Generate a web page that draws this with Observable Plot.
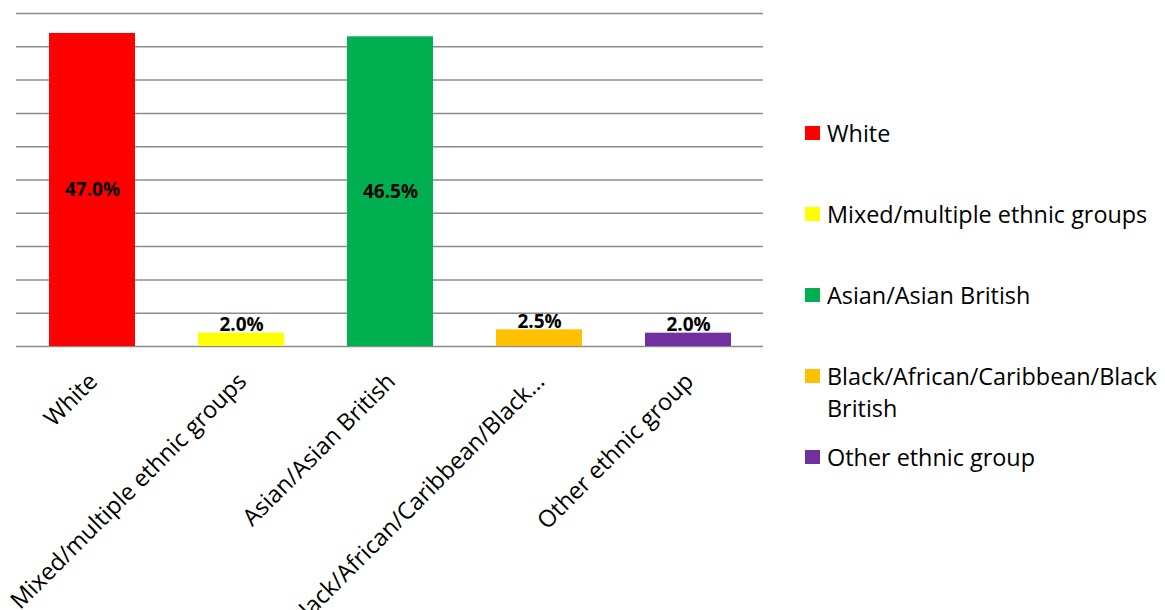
<!DOCTYPE html>
<html><head><meta charset="utf-8">
<script src="https://cdn.jsdelivr.net/npm/d3@7"></script>
<script src="https://cdn.jsdelivr.net/npm/@observablehq/plot@0.6"></script>
<style>
body{margin:0;background:#fff;font-family:"Open Sans", sans-serif;}
#wrap{position:relative;width:1165px;height:610px;overflow:hidden;background:#fff;}
#chart{position:absolute;left:0;top:0;}
#legend{position:absolute;left:805px;top:117px;width:360px;}
.item{display:flex;align-items:flex-start;height:81px;font-size:23.4px;line-height:32px;color:#000;}
.sw{width:15px;height:14px;margin-top:9px;margin-right:7px;flex:none;}
.lab{width:338px;}
</style></head><body><div id="wrap"><div id="chart"></div><div id="legend"></div></div>
<script>
const categories = ["White", "Mixed/multiple ethnic groups", "Asian/Asian British", "Black/African/Caribbean/Black British", "Other ethnic group"];
const axisLabels = ["White", "Mixed/multiple ethnic groups", "Asian/Asian British", "Black/African/Caribbean/Black…", "Other ethnic group"];
const values = [47.0, 2.0, 46.5, 2.5, 2.0];
const colors = ["#FF0000", "#FFFF00", "#00B050", "#FFC000", "#7030A0"];
const gridTicks = [0, 5, 10, 15, 20, 25, 30, 35, 40, 45, 50];

const data = categories.map((c, i) => ({category: c, value: values[i], label: axisLabels[i]}));
const fmt = d => d.value.toFixed(1) + "%";

const plot = Plot.plot({
  width: 780, height: 610,
  marginTop: 13, marginBottom: 264, marginLeft: 16, marginRight: 17,
  x: {domain: categories, paddingInner: 0.424, paddingOuter: 0.212, axis: null},
  y: {domain: [0, 50], axis: null},
  color: {domain: categories, range: colors},
  style: {fontFamily: "'Open Sans', sans-serif", background: "white", overflow: "visible"},
  marks: [
    Plot.ruleY(gridTicks, {stroke: "#8c8c8c", strokeWidth: 1.5}),
    Plot.barY(data, {x: "category", y: "value", fill: "category"}),
    Plot.text(data.filter(d => d.value > 10), {x: "category", y: d => d.value / 2, text: fmt, fontWeight: "bold", fontSize: 19, fill: "black"}),
    Plot.text(data.filter(d => d.value <= 10), {x: "category", y: "value", text: fmt, lineAnchor: "bottom", dy: -2, fontWeight: "bold", fontSize: 19, fill: "black"}),
    Plot.text(data, {x: "category", frameAnchor: "bottom", text: "label", rotate: -45, textAnchor: "end", lineAnchor: "middle", dy: 31, dx: 1, fontSize: 23.5, fill: "black"})
  ]
});
document.getElementById("chart").appendChild(plot);

const legend = document.getElementById("legend");
categories.forEach((c, i) => {
  const item = document.createElement("div");
  item.className = "item";
  const sw = document.createElement("div");
  sw.className = "sw";
  sw.style.background = colors[i];
  const lab = document.createElement("div");
  lab.className = "lab";
  lab.textContent = c;
  item.appendChild(sw);
  item.appendChild(lab);
  legend.appendChild(item);
});
</script></body></html>
